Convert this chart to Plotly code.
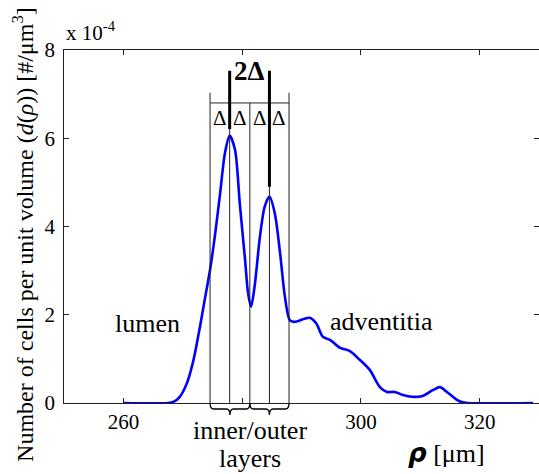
import plotly.graph_objects as go

# ---- data (density in units of 1e-4 cells / um^3) ----
rho_um = [260, 267.5, 268.5, 269.5, 270.7, 271.8, 272.9, 273.7, 274.6, 275.4, 276.3, 277.1,
          277.9, 278.8, 279.6, 280.5, 281.0, 281.5, 282.1, 283.0, 283.8, 284.6, 285.5, 286.4,
          287.2, 288.0, 288.6, 289.5, 290.5, 291.4, 292.5, 293.6, 294.8, 296.5, 298.1, 299.8,
          301.5, 303.2, 304.4, 305.7, 307.1, 308.6, 310.4, 312.1, 313.3, 314.5, 316.2, 317.0,
          318.0, 329.0]
density_e4 = [0, 0, 0.03, 0.14, 0.45, 0.97, 1.73, 2.34, 3.02, 3.77, 4.76, 5.66,
              6.06, 5.74, 4.53, 3.24, 2.49, 2.18, 2.64, 3.77, 4.45, 4.68, 4.30, 3.39,
              2.41, 1.88, 1.84, 1.86, 1.91, 1.93, 1.80, 1.50, 1.43, 1.25, 1.18, 0.98,
              0.75, 0.36, 0.25, 0.25, 0.18, 0.14, 0.16, 0.29, 0.36, 0.25, 0.07, 0.02,
              0, 0]

# layer boundaries (Delta spacing) and marker heights
layer_bounds = [274.6, 277.9, 281.3, 284.6, 287.9]
bracket_level = 6.8
outer_top = 7.03
thick_marks = [(277.9, 6.21, 7.53), (284.6, 4.9, 7.53)]

x_ticks = [260, 280, 300, 320]
x_ticklabels = ["260", "", "300", "320"]
y_ticks = [0, 2, 4, 6, 8]

FONT = "Liberation Serif"
AX = "#222222"

fig = go.Figure()
fig.add_trace(go.Scatter(x=rho_um, y=density_e4, mode="lines",
                         line=dict(color="#0000ff", width=2.6, shape="spline", smoothing=0.8),
                         showlegend=False, hoverinfo="skip"))
# invisible trace on the label axis so it is drawn
fig.add_trace(go.Scatter(x=[rho_um[0]], y=[density_e4[0]], yaxis="y2", mode="lines",
                         line=dict(width=0), showlegend=False, hoverinfo="skip"))

shapes = []
for i, xb in enumerate(layer_bounds):
    top = outer_top if i in (0, len(layer_bounds) - 1) else bracket_level
    shapes.append(dict(type="line", xref="x", yref="y", x0=xb, x1=xb, y0=0, y1=top,
                       line=dict(color=AX, width=1)))
shapes.append(dict(type="line", xref="x", yref="y", x0=layer_bounds[0], x1=layer_bounds[-1],
                   y0=bracket_level, y1=bracket_level, line=dict(color=AX, width=1)))
for xm, y0, y1 in thick_marks:
    shapes.append(dict(type="line", xref="x", yref="y", x0=xm, x1=xm, y0=y0, y1=y1,
                       line=dict(color="black", width=3)))

# curly braces below axis (x in data, y in paper)
h = 0.034
for a, b in [(layer_bounds[0], layer_bounds[2]), (layer_bounds[2], layer_bounds[4])]:
    m = (a + b) / 2
    q = 0.6
    path = (f"M {a},0 Q {a},{-h/2} {a+q},{-h/2} L {m-q},{-h/2} Q {m},{-h/2} {m},{-h} "
            f"Q {m},{-h/2} {m+q},{-h/2} L {b-q},{-h/2} Q {b},{-h/2} {b},0")
    shapes.append(dict(type="path", xref="x", yref="paper", path=path,
                       line=dict(color="black", width=1.3)))

def ann(text, x, y, xref, yref, size, **kw):
    d = dict(text=text, x=x, y=y, xref=xref, yref=yref, showarrow=False,
             xanchor="center", yanchor="middle",
             font=dict(size=size, family=FONT, color="black"))
    d.update(kw)
    return d

mid_layers = (layer_bounds[0] + layer_bounds[-1]) / 2
annotations = [
    ann("lumen", 264.1, 1.81, "x", "y", 26),
    ann("adventitia", 303.4, 1.84, "x", "y", 26),
    ann("inner/outer", mid_layers, -0.077, "x", "paper", 26),
    ann("layers", mid_layers, -0.156, "x", "paper", 26),
    ann("<b>2Δ</b>", (thick_marks[0][0] + thick_marks[1][0]) / 2, 7.53, "x", "y", 27),
    ann('<span style="font-family:DejaVu Sans"><i><b>ρ</b></i></span> [μm]',
        314.5, -0.142, "x", "paper", 26),
    ann("x 10<sup>-4</sup>", 0.0, 1.0, "paper", "paper", 21,
        xanchor="left", yanchor="bottom", yshift=3),
    ann("Number of cells per unit volume (<i>d</i>(<i>ρ</i>)) [#/μm<sup>3</sup>]",
        -0.085, 0.478, "paper", "paper", 24, textangle=-90),
]
for i in range(4):
    annotations.append(ann("Δ", (layer_bounds[i] + layer_bounds[i + 1]) / 2, 6.45,
                           "x", "y", 21))

fig.update_layout(
    width=539, height=474,
    margin=dict(l=64, r=0, t=50, b=71),
    paper_bgcolor="white", plot_bgcolor="white",
    font=dict(family=FONT, size=20, color="black"),
    shapes=shapes, annotations=annotations,
    xaxis=dict(range=[250, 330], tickvals=x_ticks, ticktext=x_ticklabels,
               ticks="inside", ticklen=5, tickcolor=AX, showline=True, linecolor=AX,
               linewidth=1, mirror="ticks", showgrid=False, zeroline=False,
               tickfont=dict(size=21, family=FONT, color="black")),
    yaxis=dict(range=[0, 8], tickvals=y_ticks, ticks="inside", ticklen=5, tickcolor=AX,
               showline=True, linecolor=AX, linewidth=1, mirror="ticks", showgrid=False,
               zeroline=False, showticklabels=False),
    yaxis2=dict(range=[0, 8], tickvals=y_ticks, overlaying="y", anchor="free",
                position=0, side="left", showline=False, ticks="", showgrid=False,
                zeroline=False, ticklabelstandoff=9,
                tickfont=dict(size=21, family=FONT, color="black")),
)

fig.write_html("out.html")
